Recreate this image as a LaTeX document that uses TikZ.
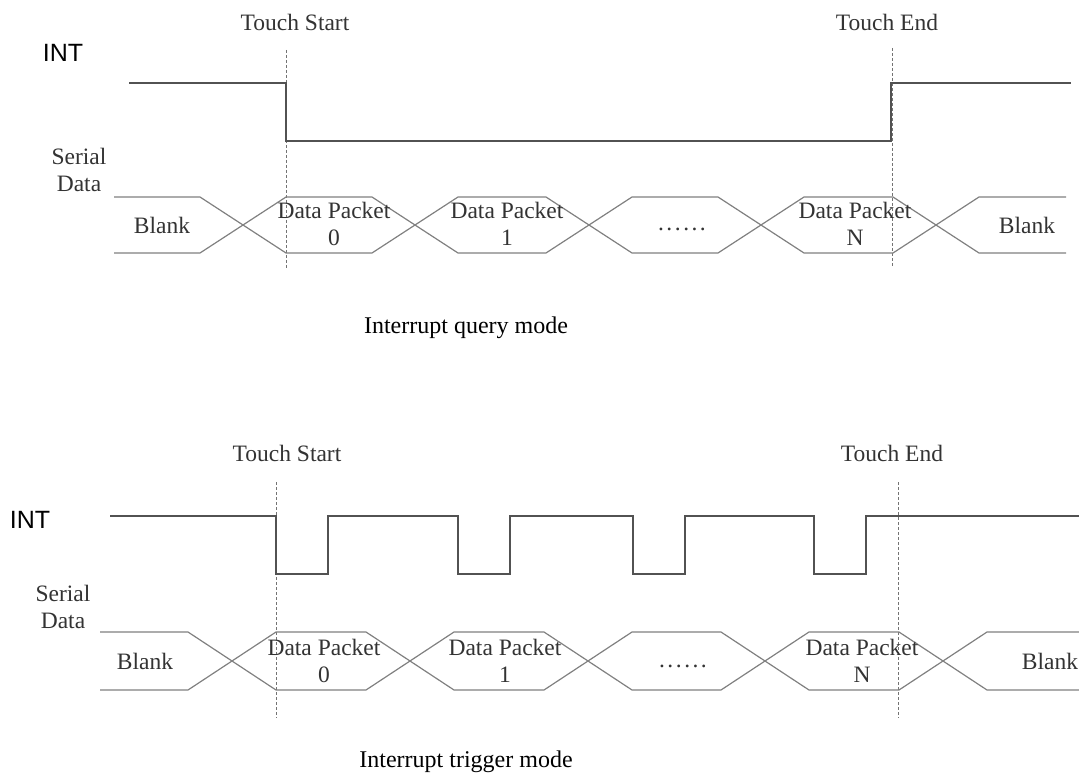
\documentclass[tikz,border=0pt]{standalone}
\usepackage{fontspec}
\setmainfont{Liberation Serif}
\newfontfamily\signalfont{Liberation Sans}
\newcommand\pktdots{.\kern2.5pt.\kern2.5pt.\kern2.5pt.\kern2.5pt.\kern2.5pt.}
\begin{document}
\begin{tikzpicture}[x=1pt,y=-1pt,
  wave/.style={draw=black!68, line width=1.5pt, line join=miter},
  busline/.style={draw=black!50, line width=1.2pt, line join=round},
  marker/.style={draw=black!55, line width=1pt, dash pattern=on 3pt off 2pt},
  lbl/.style={text=black!80, font=\fontsize{23.5}{27}\selectfont, inner sep=0pt, align=center},
  sig/.style={font=\signalfont\fontsize{25}{30}\selectfont, inner sep=0pt},
  caption/.style={font=\fontsize{24}{28}\selectfont, inner sep=0pt}]
\useasboundingbox (0,0) rectangle (1079,778);

% ---------------- Interrupt query mode ----------------
\coordinate (qsa) at (286,50);  \coordinate (qsb) at (286,268);
\coordinate (qea) at (892,48);  \coordinate (qeb) at (892,267);
\draw[marker] (qsa) -- (qsb);
\draw[marker] (qea) -- (qeb);

\node[lbl] (qstart) at (295,22) {Touch Start};
\node[lbl] (qend) at (887,22) {Touch End};
\node[sig] (qint) at (63,53) {INT};
\node[lbl] (qser) at (79,170) {Serial\\Data};

% INT: low for the whole touch
\draw[wave] (129,83) -- (286,83) -- (286,141) -- (891,141) -- (891,83) -- (1071,83);

% serial data bus
\draw[busline] (114,197) -- (200,197) -- (286,253) -- (372,253) -- (458,197) -- (546,197)
  -- (632,253) -- (718,253) -- (804,197) -- (893,197) -- (979,253) -- (1066,253);
\draw[busline] (114,253) -- (200,253) -- (286,197) -- (372,197) -- (458,253) -- (546,253)
  -- (632,197) -- (718,197) -- (804,253) -- (893,253) -- (979,197) -- (1066,197);

\node[lbl] (qb0) at (162,225) {Blank};
\node[lbl] (qp0) at (334,224) {Data Packet\\0};
\node[lbl] (qp1) at (507,224) {Data Packet\\1};
\node[lbl] (qdots) at (682,229) {\pktdots};
\node[lbl] (qpn) at (855,224) {Data Packet\\N};
\node[lbl] (qb1) at (1027,225) {Blank};

\node[caption] (qcap) at (466,328) {Interrupt query mode};

% ---------------- Interrupt trigger mode ----------------
\coordinate (tsa) at (276,482); \coordinate (tsb) at (276,718);
\coordinate (tea) at (898,482); \coordinate (teb) at (898,718);
\draw[marker] (tsa) -- (tsb);
\draw[marker] (tea) -- (teb);

\node[lbl] (tstart) at (287,453) {Touch Start};
\node[lbl] (tend) at (892,453) {Touch End};
\node[sig] (tint) at (30,520) {INT};
\node[lbl] (tser) at (63,607) {Serial\\Data};

% INT: one low pulse per data packet
\draw[wave] (110,516) -- (276,516) -- (276,574) -- (328,574) -- (328,516)
  -- (458,516) -- (458,574) -- (510,574) -- (510,516)
  -- (633,516) -- (633,574) -- (685,574) -- (685,516)
  -- (814,516) -- (814,574) -- (866,574) -- (866,516) -- (1079,516);

% serial data bus
\draw[busline] (100,632) -- (188,632) -- (276,690) -- (366,690) -- (454,632) -- (544,632)
  -- (632,690) -- (721,690) -- (809,632) -- (899,632) -- (987,690) -- (1079,690);
\draw[busline] (100,690) -- (188,690) -- (276,632) -- (366,632) -- (454,690) -- (544,690)
  -- (632,632) -- (721,632) -- (809,690) -- (899,690) -- (987,632) -- (1079,632);

\node[lbl] (tb0) at (145,661) {Blank};
\node[lbl] (tp0) at (324,661) {Data Packet\\0};
\node[lbl] (tp1) at (505,661) {Data Packet\\1};
\node[lbl] (tdots) at (683,666) {\pktdots};
\node[lbl] (tpn) at (862,661) {Data Packet\\N};
\node[lbl] (tb1) at (1050,661) {Blank};

\node[caption] (tcap) at (466,762) {Interrupt trigger mode};
\end{tikzpicture}
\end{document}
